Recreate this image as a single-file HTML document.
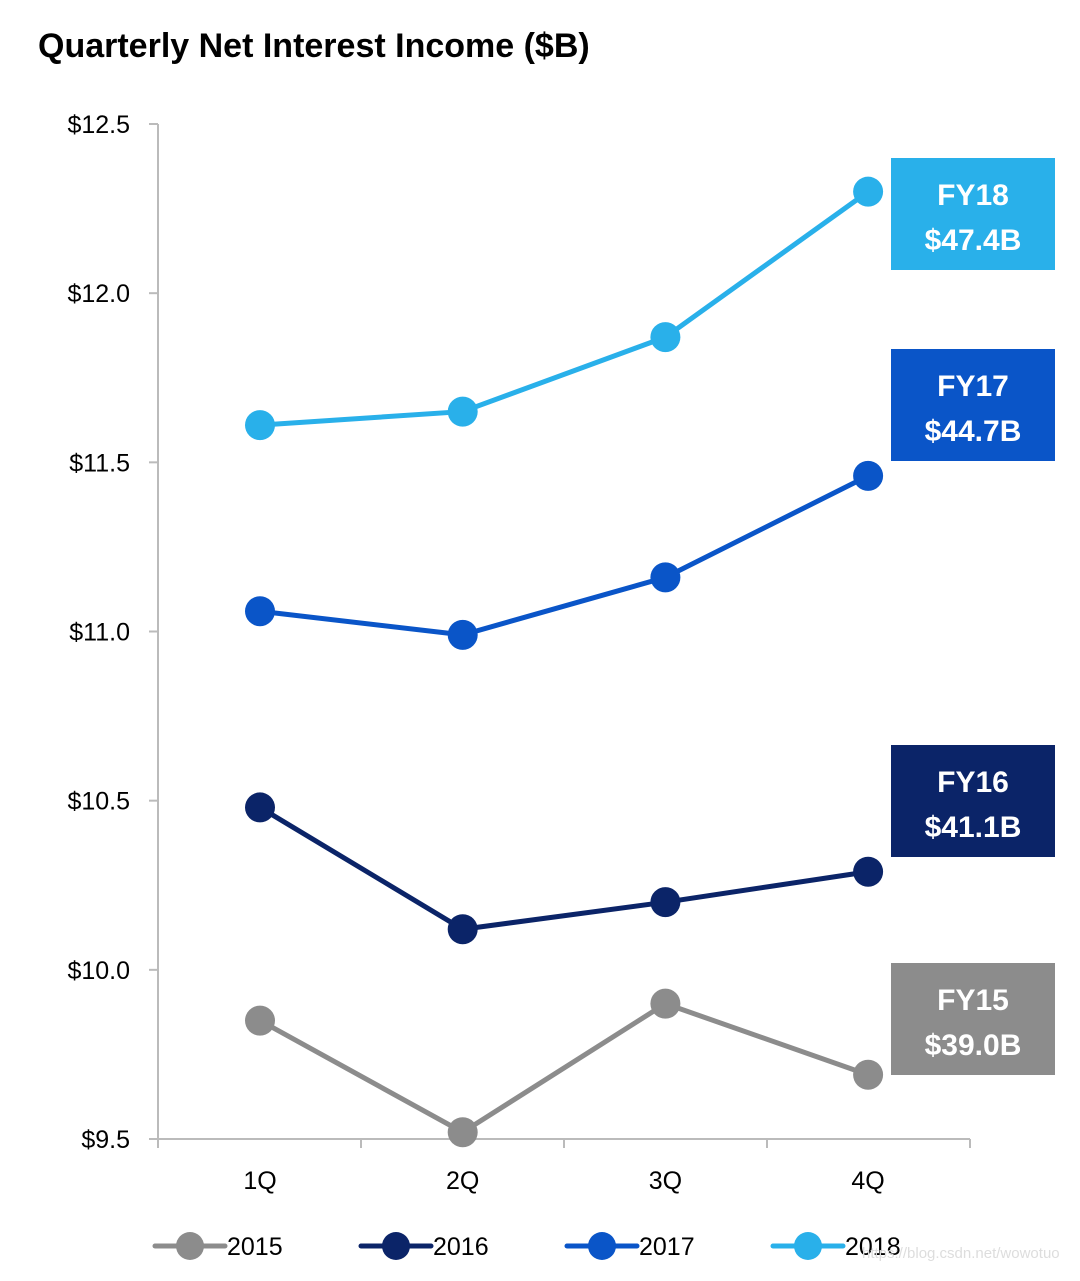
<!DOCTYPE html>
<html><head><meta charset="utf-8"><style>
body{margin:0;background:#fff;width:1080px;height:1276px;overflow:hidden}
svg text{font-family:"Liberation Sans",sans-serif}
</style></head><body>
<svg id="c" width="1080" height="1276">
<text x="38" y="57" font-size="34" font-weight="bold" fill="#000">Quarterly Net Interest Income ($B)</text>
<g id="axes"></g><g id="series"></g><g id="boxes"></g><g id="legend"></g>
<text x="862" y="1258" font-size="15" fill="#ddd">https://blog.csdn.net/wowotuo</text>
</svg>
<script>
const categories=["1Q","2Q","3Q","4Q"];
const years=["2015","2016","2017","2018"];
const v2015=[9.85,9.52,9.90,9.69];
const v2016=[10.48,10.12,10.20,10.29];
const v2017=[11.06,10.99,11.16,11.46];
const v2018=[11.61,11.65,11.87,12.30];
const yTicks=[9.5,10.0,10.5,11.0,11.5,12.0,12.5];
const boxLabels=["FY15","FY16","FY17","FY18"];
const boxValues=["$39.0B","$41.1B","$44.7B","$47.4B"];
const boxTops=[963,745,349,158];
const colors=["#8c8c8c","#0b2468","#0a55c8","#29b0ea"];
const NS="http://www.w3.org/2000/svg";
function mk(t,a,p){const e=document.createElementNS(NS,t);for(const k in a)e.setAttribute(k,a[k]);p.appendChild(e);return e;}
const y=v=>1139-(v-9.5)*338.33;
const x=i=>260+i*202.7;
const ax=document.getElementById('axes');
let l=mk('line',{x1:158,y1:124,x2:158,y2:1139,stroke:'#bbb','stroke-width':2},ax);

l=mk('line',{x1:158,y1:1139,x2:970,y2:1139,stroke:'#bbb','stroke-width':2},ax);

yTicks.forEach(t=>{
 const e=mk('line',{x1:149,x2:158,y1:y(t),y2:y(t),stroke:'#bbb','stroke-width':2},ax);
 
 const tx=mk('text',{x:130,y:y(t)+9,'font-size':25,'text-anchor':'end',fill:'#000'},ax);
 tx.textContent='$'+t.toFixed(1);
 
});
for(let i=0;i<=categories.length;i++){
 const xx=158+i*203;
 const e=mk('line',{x1:xx,x2:xx,y1:1139,y2:1148,stroke:'#bbb','stroke-width':2},ax);
 
}
categories.forEach((c,i)=>{
 const tx=mk('text',{x:x(i),y:1189,'font-size':25,'text-anchor':'middle',fill:'#000'},ax);
 tx.textContent=c;
 
});
const sg=document.getElementById('series');
[v2015,v2016,v2017,v2018].forEach((vals,s)=>{
 const g=mk('g',{},sg);
 
 const p=mk('polyline',{points:vals.map((v,i)=>x(i)+','+y(v)).join(' '),fill:'none',stroke:colors[s],'stroke-width':5},g);
 
 vals.forEach((v,i)=>{
  const c=mk('circle',{cx:x(i),cy:y(v),r:15,fill:colors[s]},g);
  
 });
});
const bg=document.getElementById('boxes');
boxLabels.forEach((b,i)=>{
 const g=mk('g',{},bg);
 
 mk('rect',{x:891,y:boxTops[i],width:164,height:112,fill:colors[i]},g);
 const t1=mk('text',{x:973,y:boxTops[i]+47,'font-size':30,'font-weight':'bold','text-anchor':'middle',fill:'#fff'},g);
 t1.textContent=b;
 const t2=mk('text',{x:973,y:boxTops[i]+92,'font-size':30,'font-weight':'bold','text-anchor':'middle',fill:'#fff'},g);
 t2.textContent=boxValues[i];
});
const lg=document.getElementById('legend');
years.forEach((yr,i)=>{
 const x0=155+i*206;
 const g=mk('g',{},lg);
 
 mk('line',{x1:x0,x2:x0+70,y1:1246,y2:1246,stroke:colors[i],'stroke-width':5,'stroke-linecap':'round'},g);
 mk('circle',{cx:x0+35,cy:1246,r:14,fill:colors[i]},g);
 const t=mk('text',{x:x0+72,y:1255,'font-size':25,fill:'#000'},g);
 t.textContent=yr;
});
</script>
</body></html>
